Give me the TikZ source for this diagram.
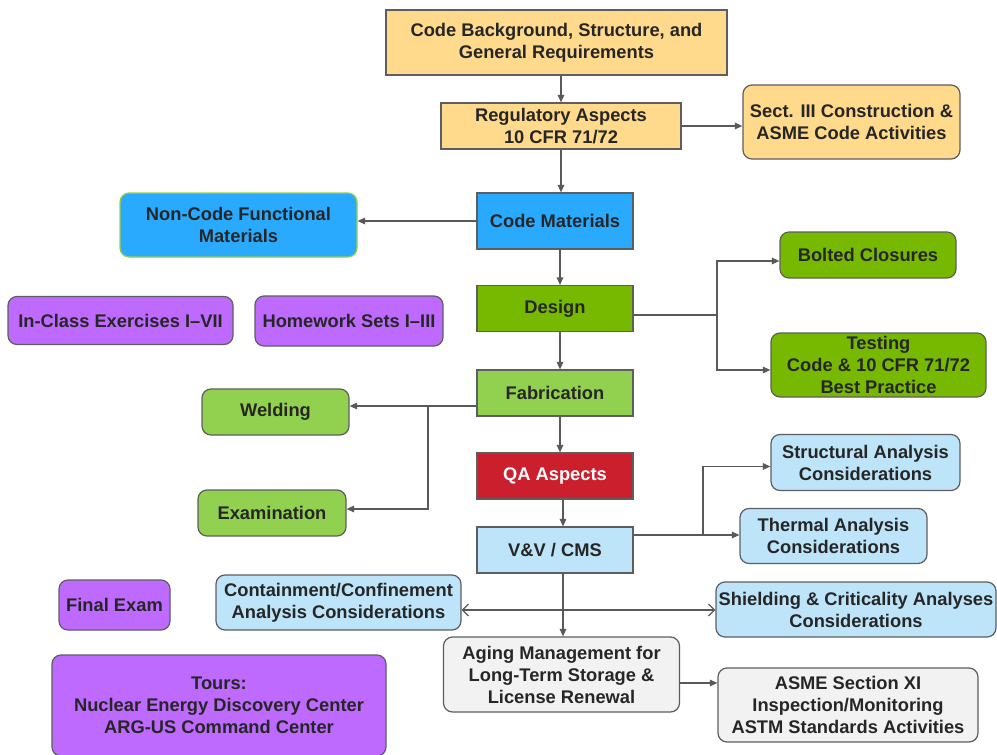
\documentclass[tikz,border=0pt]{standalone}
\usepackage{fontspec}
\setmainfont{Liberation Sans}
\usetikzlibrary{arrows.meta}
\definecolor{cOrange}{HTML}{FFD98C}
\definecolor{cBlue}{HTML}{29AAFF}
\definecolor{cDGreen}{HTML}{76B900}
\definecolor{cLGreen}{HTML}{92D050}
\definecolor{cRed}{HTML}{CC1F2E}
\definecolor{cLBlue}{HTML}{BDE4F9}
\definecolor{cPurple}{HTML}{BE6AFF}
\definecolor{cGray}{HTML}{F2F2F2}
\definecolor{cBorder}{HTML}{5E5E5E}
\definecolor{cText}{HTML}{262626}
\definecolor{cLine}{HTML}{595959}
\tikzset{
  box/.style={draw=cBorder, line width=1.2pt, align=center, inner sep=0.5pt,
    text=cText, font=\fontsize{18.3}{22}\selectfont\bfseries},
  rbox/.style={box, rounded corners=9pt},
  arr/.style={draw=cLine, line width=1.2pt, -{Triangle[length=7.5pt,width=6.5pt]}},
  plainline/.style={draw=cLine, line width=1.2pt},
  dbl/.style={draw=cLine, line width=1.2pt, {Straight Barb[length=6pt,width=12pt]}-{Straight Barb[length=6pt,width=12pt]}}
}
\begin{document}
\begin{tikzpicture}[x=1pt,y=-1pt]
\useasboundingbox (0,0) rectangle (997,755);
\fill[white] (0,0) rectangle (997,755);

% central column
\node[box, fill=cOrange, minimum width=341pt, minimum height=65pt] (bg) at (556.5,42.5) {Code Background, Structure, and\\General Requirements};
\node[box, fill=cOrange, minimum width=240pt, minimum height=46pt] (reg) at (561,126) {Regulatory Aspects\\10 CFR 71/72};
\node[rbox, fill=cOrange, minimum width=217pt, minimum height=74pt] (sect) at (851.5,122) {Sect. III Construction \&\\ASME Code Activities};
\node[box, fill=cBlue, minimum width=156pt, minimum height=56pt] (cm) at (555,221) {Code Materials};
\node[rbox, fill=cBlue, draw=cLGreen, minimum width=237pt, minimum height=64pt] (nc) at (238.5,225) {Non-Code Functional\\Materials};
\node[rbox, fill=cPurple, minimum width=225pt, minimum height=48pt] (ice) at (120.5,320.5) {In-Class Exercises I--VII};
\node[rbox, fill=cPurple, minimum width=188pt, minimum height=50pt] (hw) at (349,321) {Homework Sets I--III};
\node[box, fill=cDGreen, minimum width=156pt, minimum height=46pt] (des) at (555,308.5) {Design};
\node[rbox, fill=cDGreen, minimum width=176pt, minimum height=46pt] (bolt) at (868,255) {Bolted Closures};
\node[rbox, fill=cDGreen, minimum width=215pt, minimum height=64pt] (test) at (878.5,365) {Testing\\Code \& 10 CFR 71/72\\Best Practice};
\node[box, fill=cLGreen, minimum width=156pt, minimum height=46pt] (fab) at (555,393) {Fabrication};
\node[rbox, fill=cLGreen, minimum width=147pt, minimum height=46pt] (weld) at (275.5,412) {Welding};
\node[rbox, fill=cLGreen, minimum width=148pt, minimum height=46pt] (exam) at (272,513) {Examination};
\node[box, fill=cRed, text=white, minimum width=156pt, minimum height=46pt] (qa) at (555,476) {QA Aspects};
\node[box, fill=cLBlue, minimum width=156pt, minimum height=46pt] (vv) at (555,550) {V\&V / CMS};
\node[rbox, fill=cLBlue, minimum width=189pt, minimum height=56pt] (struct) at (865.5,462.5) {Structural Analysis\\Considerations};
\node[rbox, fill=cLBlue, minimum width=187pt, minimum height=55pt] (therm) at (833.5,536) {Thermal Analysis\\Considerations};
\node[rbox, fill=cLBlue, minimum width=280pt, minimum height=55pt] (shield) at (856,609.5) {Shielding \& Criticality Analyses\\Considerations};
\node[rbox, fill=cLBlue, minimum width=245pt, minimum height=55pt] (cont) at (338.5,602.5) {Containment/Confinement\\Analysis Considerations};
\node[rbox, fill=cPurple, minimum width=111pt, minimum height=50pt] (fin) at (114.5,605) {Final Exam};
\node[rbox, fill=cPurple, minimum width=334pt, minimum height=101pt] (tours) at (219,705.5) {Tours:\\Nuclear Energy Discovery Center\\ARG-US Command Center};
\node[rbox, fill=cGray, minimum width=236pt, minimum height=75pt] (aging) at (561.5,674.5) {Aging Management for\\Long-Term Storage \&\\License Renewal};
\node[rbox, fill=cGray, minimum width=260pt, minimum height=74pt] (asme) at (848,705) {ASME Section XI\\Inspection/Monitoring\\ASTM Standards Activities};

% helper coordinates
\coordinate (colA) at (560,0);
\coordinate (colB) at (563,0);
\coordinate (dfork) at (717,315);
\coordinate (ffork) at (428,406);
\coordinate (vfork) at (703,535);
\coordinate (hline) at (0,610);
\coordinate (aline) at (0,683);

% connectors
\draw[arr] (bg.south -| reg.north) -- (reg.north);
\draw[arr] (reg.east) -- (reg.east -| sect.west);
\draw[arr] (reg.south) -- (reg.south |- cm.north);
\draw[arr] (cm.west) -- (cm.west -| nc.east);
\draw[arr] (colA |- cm.south) -- (colA |- des.north);
\draw[arr] (colA |- des.south) -- (colA |- fab.north);
\draw[arr] (colA |- fab.south) -- (colA |- qa.north);
\draw[arr] (colB |- qa.south) -- (colB |- vv.north);

\draw[plainline] (des.east |- dfork) -- (dfork);
\draw[arr] (dfork) |- ([yshift=-6pt]bolt.west);
\draw[arr] (dfork) |- ([yshift=-5pt]test.west);

\draw[arr] (fab.west |- ffork) -- (weld.east |- ffork);
\draw[arr] (ffork) |- ([yshift=4pt]exam.east);

\draw[arr] (vv.east |- vfork) -- (therm.west |- vfork);
\draw[arr] (vfork) |- ([yshift=-4pt]struct.west);

\draw[dbl] (cont.east |- hline) -- (shield.west |- hline);
\draw[arr] (colB |- vv.south) -- (colB |- aging.north);
\draw[arr] (aging.east |- aline) -- (asme.west |- aline);
\end{tikzpicture}
\end{document}
